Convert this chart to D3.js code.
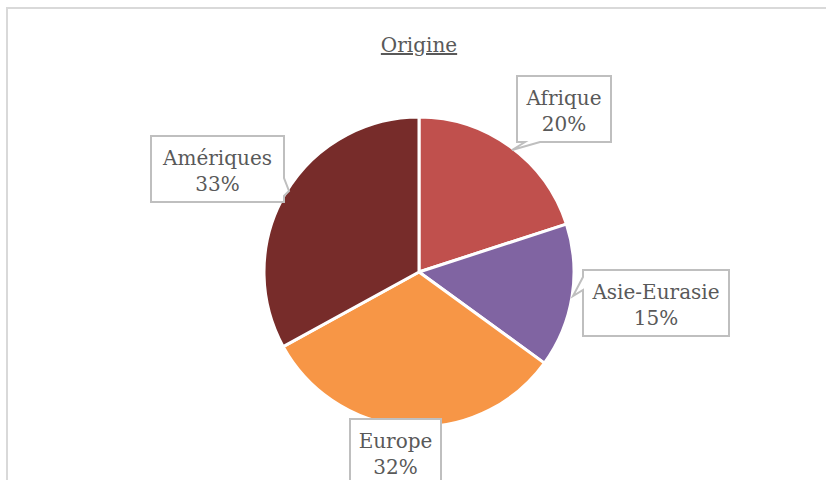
<!DOCTYPE html>
<html>
<head>
<meta charset="utf-8">
<script src="https://cdn.jsdelivr.net/npm/d3@7"></script>
<style>
    body { margin: 0; background: #ffffff; }
    svg { display: block; }
</style>
</head>
<body>
<svg id="drawing_region"></svg>
<script>
const categories = ['Afrique', 'Asie-Eurasie', 'Europe', 'Amériques'];
const values = [20, 15, 32, 33];
const colors = ['#C0504D', '#8064A2', '#F79646', '#772C2A'];
const title = 'Origine';

// label boxes (callouts): box rect + tip of the pointer
const callouts = [
    {x: 517, y: 76, w: 94, h: 66, side: 'bottom', p: [540, 525], tip: [512, 150]},
    {x: 583, y: 270, w: 146, h: 66, side: 'left', p: [277, 290], tip: [573, 296]},
    {x: 350, y: 419, w: 91, h: 66, side: 'none'},
    {x: 151, y: 136, w: 133, h: 66, side: 'right', p: [178, 196], tip: [289, 191]}
];

var config = {
    width: 826,
    height: 480,
    cx: 419,
    cy: 272,
    radius: 155
};

const svg = d3.select('#drawing_region')
    .attr('width', config.width)
    .attr('height', config.height);

// chart frame
svg.append('rect')
    .attr('x', 7)
    .attr('y', 8)
    .attr('width', config.width)
    .attr('height', config.height)
    .attr('fill', 'none')
    .attr('stroke', '#d9d9d9')
    .attr('stroke-width', 2);

// title
svg.append('text')
    .attr('x', 419)
    .attr('y', 52)
    .attr('text-anchor', 'middle')
    .style('font-family', '"DejaVu Serif", serif')
    .style('font-size', '20px')
    .style('fill', '#595959')
    .style('text-decoration', 'underline')
    .text(title);

const data = categories.map((c, i) => ({name: c, value: values[i], color: colors[i]}));

const pie = d3.pie()
    .sort(null)
    .value(d => d.value);

const arc = d3.arc()
    .innerRadius(0)
    .outerRadius(config.radius);

const chart = svg.append('g')
    .attr('transform', `translate(${config.cx}, ${config.cy})`);

chart.selectAll('path')
    .data(pie(data))
    .enter()
    .append('path')
    .attr('d', arc)
    .attr('fill', d => d.data.color)
    .attr('stroke', '#ffffff')
    .attr('stroke-width', 3)
    .attr('stroke-linejoin', 'round');

// callout shape
function calloutPath(c) {
    const x0 = c.x, y0 = c.y, x1 = c.x + c.w, y1 = c.y + c.h;
    let p = `M${x0},${y0} L${x1},${y0} `;
    if (c.side === 'right') {
        p += `L${x1},${c.p[0]} L${c.tip[0]},${c.tip[1]} L${x1},${c.p[1]} `;
    }
    p += `L${x1},${y1} `;
    if (c.side === 'bottom') {
        p += `L${c.p[0]},${y1} L${c.tip[0]},${c.tip[1]} L${c.p[1]},${y1} `;
    }
    p += `L${x0},${y1} `;
    if (c.side === 'left') {
        p += `L${x0},${c.p[1]} L${c.tip[0]},${c.tip[1]} L${x0},${c.p[0]} `;
    }
    return p + 'Z';
}

const labels = svg.selectAll('g.label')
    .data(data)
    .enter()
    .append('g')
    .attr('class', 'label');

labels.append('path')
    .attr('d', (d, i) => calloutPath(callouts[i]))
    .attr('fill', '#ffffff')
    .attr('stroke', '#bfbfbf')
    .attr('stroke-width', 2)
    .attr('stroke-linejoin', 'miter');

labels.append('text')
    .attr('x', (d, i) => callouts[i].x + callouts[i].w / 2)
    .attr('y', (d, i) => callouts[i].y + 29)
    .attr('text-anchor', 'middle')
    .style('font-family', '"DejaVu Serif", serif')
    .style('font-size', '20px')
    .style('fill', '#595959')
    .text(d => d.name);

labels.append('text')
    .attr('x', (d, i) => callouts[i].x + callouts[i].w / 2)
    .attr('y', (d, i) => callouts[i].y + 55)
    .attr('text-anchor', 'middle')
    .style('font-family', '"DejaVu Serif", serif')
    .style('font-size', '20px')
    .style('fill', '#595959')
    .text(d => d.value + '%');
</script>
</body>
</html>
